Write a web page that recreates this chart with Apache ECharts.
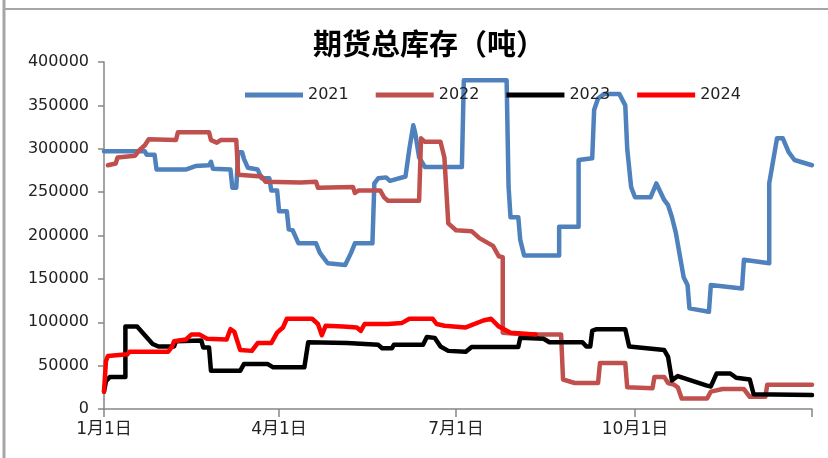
<!DOCTYPE html>
<html>
<head>
<meta charset="utf-8">
<script src="https://cdn.jsdelivr.net/npm/echarts@6/dist/echarts.min.js"></script>
<style>
  html, body { margin: 0; padding: 0; background: #fff; }
  #chart { width: 828px; height: 458px; }
</style>
</head>
<body>
<div id="chart"></div>
<script>
  // 日历（非闰年），横轴按日排列
  const monthDays = [31, 28, 31, 30, 31, 30, 31, 31, 30, 31, 30, 31]
  const days = []
  monthDays.forEach((n, m) => {
    for (let d = 1; d <= n; d++) days.push((m + 1) + '月' + d + '日')
  })
  const labelDays = [0, 90, 181, 273]
  const yTicks = [0, 50000, 100000, 150000, 200000, 250000, 300000, 350000, 400000]

  // [第几天, 库存]
  const s2021 = [
    [0, 297000], [21, 297000], [22, 293000], [26, 293000], [27, 276000], [42, 276000],
    [47, 280000], [54, 281000], [55, 285000], [56, 277000], [65, 276000], [66, 255000],
    [68, 255000], [69, 296000], [71, 296000], [72, 288000], [74, 278000], [79, 276000],
    [81, 266000], [85, 266000], [86, 252000], [89, 252000], [90, 228000], [94, 228000],
    [95, 207000], [97, 206000], [100, 191000], [109, 191000], [111, 180000], [115, 168000],
    [124, 166000], [127, 180000], [129, 191000], [138, 191000], [139, 260000], [141, 266000],
    [145, 267000], [147, 263000], [155, 268000], [157, 300000], [159, 327000], [160, 318000],
    [162, 290000], [165, 279000], [184, 279000], [185, 379000], [207, 379000], [208, 256000],
    [209, 221000], [213, 221000], [214, 195000], [216, 177000], [234, 177000], [234, 210000],
    [244, 210000], [244, 287000], [251, 289000], [252, 345000], [254, 358000], [257, 363000],
    [265, 363000], [268, 350000], [269, 300000], [271, 256000], [273, 244000], [281, 244000],
    [284, 260000], [288, 241000], [290, 235000], [292, 221000], [294, 203000], [298, 152000],
    [300, 143000], [301, 116000], [311, 112000], [312, 143000], [328, 139000], [329, 172000],
    [342, 168000], [342, 260000], [346, 312000], [349, 312000], [352, 296000], [355, 287000],
    [364, 281000]
  ]
  const s2022 = [
    [2, 281000], [6, 283000], [7, 290000], [16, 292000], [18, 298000], [21, 304000],
    [23, 311000], [37, 310000], [38, 319000], [54, 319000], [55, 310000], [58, 307000],
    [60, 310000], [68, 310000], [69, 270000], [81, 268000], [83, 262000], [101, 261000],
    [109, 262000], [110, 255000], [128, 256000], [129, 249000], [131, 252000], [142, 252000],
    [144, 244000], [146, 240000], [162, 240000], [163, 312000], [165, 308000], [173, 308000],
    [175, 290000], [177, 214000], [181, 206000], [189, 205000], [193, 197000], [200, 188000],
    [203, 176000], [205, 175000], [205, 88000], [217, 86000], [235, 86000], [236, 34000],
    [242, 30000], [254, 30000], [255, 53000], [268, 53000], [269, 25000], [282, 24000],
    [283, 37000], [288, 37000], [290, 30000], [293, 28000], [295, 25000], [297, 12000],
    [310, 12000], [312, 20000], [318, 23000], [329, 23000], [332, 14000], [340, 14000],
    [341, 28000], [364, 28000]
  ]
  const s2023 = [
    [0, 20000], [1, 32000], [3, 37000], [11, 37000], [11, 95000], [17, 95000],
    [25, 75000], [28, 72000], [36, 72000], [37, 78000], [50, 79000], [51, 71000],
    [54, 71000], [55, 44000], [70, 44000], [72, 52000], [84, 52000], [87, 48000],
    [103, 48000], [105, 77000], [125, 76000], [141, 74000], [143, 70000], [148, 70000],
    [149, 74000], [164, 74000], [166, 83000], [170, 82000], [173, 72000], [177, 67000],
    [186, 66000], [189, 71500], [213, 71500], [214, 82000], [226, 81000], [229, 77000],
    [246, 77000], [248, 72000], [250, 72000], [251, 90000], [253, 92000], [268, 92000],
    [270, 72000], [288, 68000], [290, 60000], [292, 33000], [295, 38000], [310, 27000],
    [312, 26000], [315, 41000], [322, 41000], [325, 36000], [332, 34000], [334, 17000],
    [364, 16000]
  ]
  const s2024 = [
    [0, 20000], [1, 55000], [2, 61000], [3, 63000], [12, 63000], [13, 66000],
    [33, 66000], [35, 72000], [36, 78000], [42, 80000], [45, 86000], [49, 86000],
    [53, 81000], [63, 80000], [65, 92000], [67, 89000], [70, 68000], [76, 67000],
    [79, 76000], [86, 76000], [89, 88000], [92, 94000], [94, 104000], [107, 104000],
    [110, 98000], [112, 85000], [114, 96000], [123, 95000], [130, 94000], [132, 90000],
    [134, 98000], [146, 98000], [153, 99000], [157, 104000], [169, 104000], [171, 98000],
    [175, 96000], [186, 94000], [195, 102000], [199, 104000], [203, 95000], [209, 88000],
    [222, 86000]
  ]

  const numFont = 'DejaVu Sans'
  const cjkFont = '"DejaVu Sans", "Noto Sans CJK SC"'

  const chart = echarts.init(document.getElementById('chart'))

  function line(name, color, data) {
    return {
      name: name,
      type: 'line',
      data: data,
      showSymbol: false,
      symbol: 'none',
      itemStyle: { color: color },
      lineStyle: { width: 4.5, color: color, cap: 'round', join: 'round' }
    }
  }

  chart.setOption({
    animation: false,
    title: {
      text: '期货总库存（吨）',
      left: 424,
      top: 24,
      textAlign: 'center',
      textStyle: { fontFamily: 'Noto Sans CJK SC', fontSize: 29, fontWeight: 'bold', color: '#000' }
    },
    legend: {
      left: 240,
      top: 82,
      icon: 'rect',
      itemWidth: 58,
      itemHeight: 5,
      itemGap: 27,
      textStyle: { fontFamily: numFont, fontSize: 16, color: '#222' },
      data: ['2021', '2022', '2023', '2024']
    },
    grid: { left: 104, right: 16, top: 62, bottom: 49 },
    xAxis: {
      type: 'category',
      data: days,
      boundaryGap: false,
      axisLine: { lineStyle: { color: '#868686', width: 1.5 } },
      axisTick: {
        show: true,
        length: 8,
        interval: (i) => labelDays.includes(i) || i === days.length - 1,
        lineStyle: { color: '#868686', width: 1.5 }
      },
      axisLabel: {
        interval: (i) => labelDays.includes(i),
        margin: 12,
        fontFamily: cjkFont,
        fontSize: 17,
        color: '#222'
      },
      splitLine: { show: false }
    },
    yAxis: {
      type: 'value',
      min: yTicks[0],
      max: yTicks[yTicks.length - 1],
      interval: yTicks[1] - yTicks[0],
      axisLine: { show: true, lineStyle: { color: '#868686', width: 1.5 } },
      axisTick: { show: true, length: 6, lineStyle: { color: '#868686', width: 1.5 } },
      axisLabel: {
        margin: 15,
        fontFamily: numFont,
        fontSize: 16,
        color: '#222',
        formatter: (v) => String(v)
      },
      splitLine: { show: false }
    },
    graphic: [
      { type: 'line', shape: { x1: 4, y1: 0, x2: 4, y2: 458 }, style: { stroke: '#a6a6a6', lineWidth: 3 } },
      { type: 'line', shape: { x1: 4, y1: 9, x2: 828, y2: 9 }, style: { stroke: '#a6a6a6', lineWidth: 2 } }
    ],
    series: [
      line('2021', '#4f81bd', s2021),
      line('2022', '#c0504d', s2022),
      line('2023', '#000000', s2023),
      line('2024', '#ff0000', s2024)
    ]
  })
</script>
</body>
</html>
